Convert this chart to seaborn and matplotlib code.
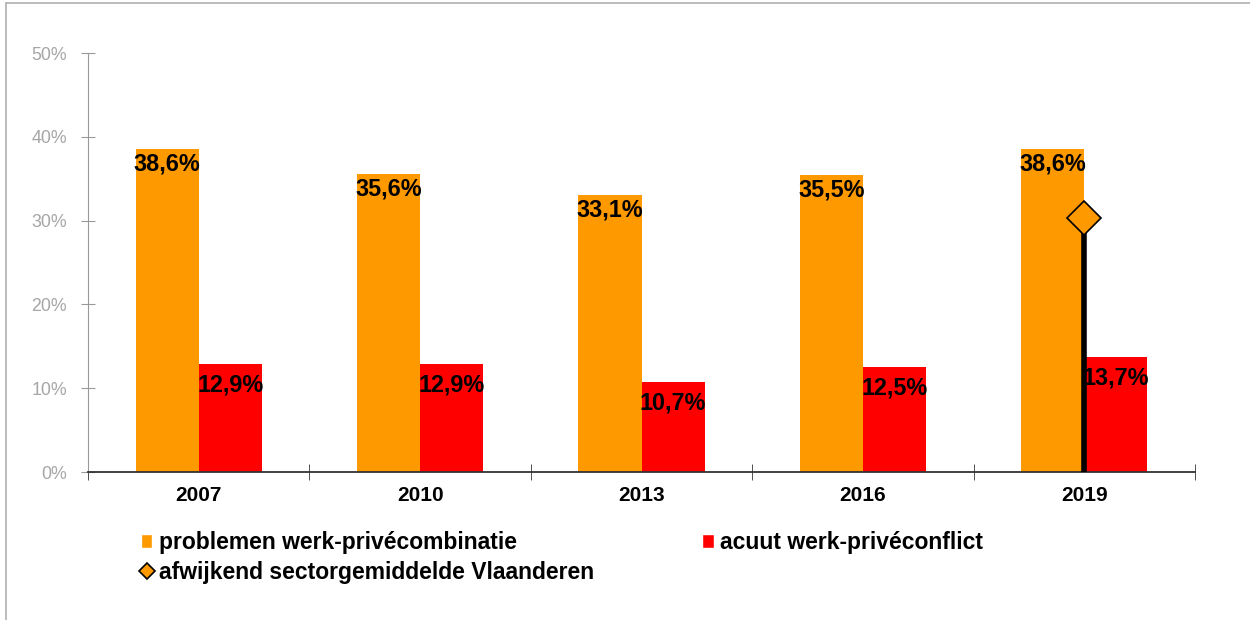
import pandas as pd
import matplotlib.pyplot as plt
import seaborn as sns
from matplotlib.lines import Line2D
from matplotlib.patches import Patch

# data
years = ["2007", "2010", "2013", "2016", "2019"]
problemen = [38.6, 35.6, 33.1, 35.5, 38.6]
acuut = [12.9, 12.9, 10.7, 12.5, 13.7]
sector_avg = [None, None, None, None, 30.3]

series_names = ["problemen werk-privécombinatie", "acuut werk-privéconflict"]
avg_name = "afwijkend sectorgemiddelde Vlaanderen"
colors = ["#FF9900", "#FF0000"]

df = pd.DataFrame({
    "jaar": years * 2,
    "waarde": problemen + acuut,
    "reeks": [series_names[0]] * len(years) + [series_names[1]] * len(years),
})

sns.set_style("white")
plt.rcParams["font.family"] = ["Liberation Sans", "DejaVu Sans"]
plt.rcParams["text.color"] = "black"
plt.rcParams["xtick.color"] = "black"

fig = plt.figure(figsize=(12.5, 6.2), dpi=100)
ax = fig.add_axes([0.0704, 0.2387, 0.8856, 0.6758])

sns.barplot(data=df, x="jaar", y="waarde", hue="reeks", palette=colors,
            width=0.57, gap=0, saturation=1, linewidth=0, ax=ax, legend=False)

# value labels
for i, cont in enumerate(ax.containers):
    off = -15 if i == 0 else -21
    for bar, v in zip(cont, [problemen, acuut][i]):
        ax.annotate(f"{v:.1f}%".replace(".", ","),
                    (bar.get_x() + bar.get_width() / 2, v),
                    xytext=(0, off), textcoords="offset pixels",
                    ha="center", va="center", fontsize=16.8,
                    fontweight="bold", color="black")

# deviating sector average: drop line + diamond
for i, v in enumerate(sector_avg):
    if v is None:
        continue
    ax.vlines(i, 0, v, color="black", lw=4, zorder=3)
    ax.plot(i, v, marker="D", ms=17, mfc="#FF9900", mec="black", mew=1.2,
            zorder=4, ls="none")

ax.set_ylim(0, 50)
ax.set_xlim(-0.5, 4.5)
ax.set_yticks(range(0, 51, 10))
ax.set_yticklabels([f"{t}%" for t in range(0, 51, 10)])
ax.set_xlabel("")
ax.set_ylabel("")

for s in ["top", "right"]:
    ax.spines[s].set_visible(False)
ax.spines["left"].set_color("#999999")
ax.spines["bottom"].set_color("#333333")
ax.spines["bottom"].set_linewidth(1.3)

ax.tick_params(axis="y", direction="inout", length=10, color="#999999",
               labelcolor="#a6a6a6", labelsize=12.8, left=True, pad=10)
ax.tick_params(axis="x", which="major", length=0, labelsize=15, pad=10,
               labelcolor="black")
for lab in ax.get_xticklabels():
    lab.set_fontweight("bold")
ax.set_xticks([i - 0.5 for i in range(len(years) + 1)], minor=True)
ax.tick_params(axis="x", which="minor", direction="inout", length=11,
               color="#333333", bottom=True)

handles = [
    Patch(facecolor=colors[0], label=series_names[0]),
    Line2D([], [], marker="D", ms=8.5, mfc="#FF9900", mec="black", mew=1.2,
           ls="none", label=avg_name),
    Patch(facecolor=colors[1], label=series_names[1]),
]
fig.legend(handles=handles, loc="upper left", bbox_to_anchor=(0.1128, 0.1435),
           ncol=2, frameon=False, borderpad=0, borderaxespad=0,
           prop={"weight": "bold", "size": 16.5},
           handlelength=0.5, handleheight=0.6, handletextpad=0.3,
           labelspacing=0.3, columnspacing=4.7)

# chart frame
fig.add_artist(Line2D([0.005, 0.005], [0, 0.995], color="#b0b0b0", lw=1.2))
fig.add_artist(Line2D([0.005, 1.0], [0.995, 0.995], color="#b0b0b0", lw=1.2))

fig.savefig("out.png", dpi=100)
